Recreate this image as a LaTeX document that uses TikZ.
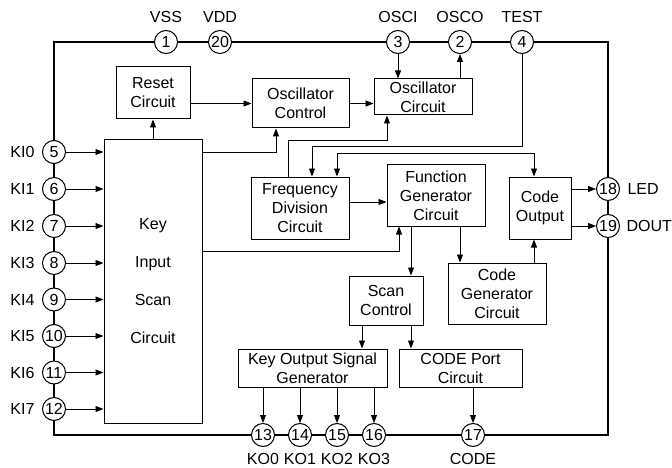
\documentclass[tikz,border=0pt]{standalone}
\usepackage{fontspec}
\setmainfont{Liberation Sans}
\usetikzlibrary{positioning,arrows.meta}

\begin{document}
\begin{tikzpicture}[x=1pt, y=-1pt,
		font=\fontsize{16}{19}\selectfont,
		block/.style={draw, line width=1pt, align=center, inner sep=0pt},
		pin/.style={circle, draw, line width=1pt, fill=white, inner sep=0pt, minimum size=23pt},
		arr/.style={line width=0.9pt, -{Triangle[length=8pt, width=6pt]}},
		frame/.style={line width=2.6pt}]
			\useasboundingbox (0, 0) rectangle (672, 468);

			% chip outline
			\draw [frame] (54, 42) rectangle (608, 435);

			% blocks
			\node [block, minimum width=74pt, minimum height=52pt] (reset) at (153, 93) {Reset\\Circuit};
			\node [block, minimum width=97pt, minimum height=49pt] (oscctl) at (300.5, 103.5) {Oscillator\\Control};
			\node [block, minimum width=98pt, minimum height=36pt] (osccir) at (423, 97) {Oscillator\\Circuit};
			\node [block, minimum width=98pt, minimum height=283pt,
				font=\fontsize{16}{38}\selectfont] (key) at (153, 281.5) {Key\\Input\\Scan\\Circuit};
			\node [block, minimum width=98pt, minimum height=62pt] (fdiv) at (300, 208) {Frequency\\Division\\Circuit};
			\node [block, minimum width=98pt, minimum height=61pt] (fgen) at (436, 195.5) {Function\\Generator\\Circuit};
			\node [block, minimum width=62pt, minimum height=62pt] (cout) at (540, 208) {Code\\Output};
			\node [block, minimum width=98pt, minimum height=61pt] (cgen) at (497, 293.5) {Code\\Generator\\Circuit};
			\node [block, minimum width=74pt, minimum height=49pt] (scan) at (386, 300.5) {Scan\\Control};
			\node [block, minimum width=149pt, minimum height=38pt] (kosg) at (312.5, 368) {Key Output Signal\\Generator};
			\node [block, minimum width=123pt, minimum height=38pt] (cport) at (460.5, 368) {CODE Port\\Circuit};

			% pins on top
			\node [pin] (p1) at (166, 42) {1};
			\node [pin] (p20) at (220, 42) {20};
			\node [pin] (p3) at (398, 42) {3};
			\node [pin] (p2) at (460, 42) {2};
			\node [pin] (p4) at (522, 42) {4};
			\node (vss) [above=4pt of p1] {VSS};
			\node (vdd) [above=4pt of p20] {VDD};
			\node (osci) [above=4pt of p3] {OSCI};
			\node (osco) [above=4pt of p2] {OSCO};
			\node (test) [above=4pt of p4] {TEST};

			% pins on the left
			\node [pin] (p5) at (54, 152) {5};
			\node [pin] (p6) at (54, 189) {6};
			\node [pin] (p7) at (54, 226) {7};
			\node [pin] (p8) at (54, 263) {8};
			\node [pin] (p9) at (54, 299.5) {9};
			\node [pin] (p10) at (54, 336) {10};
			\node [pin] (p11) at (54, 372.5) {11};
			\node [pin] (p12) at (54, 409) {12};
			\node (ki0) [left=4pt of p5] {KI0};
			\node (ki1) [left=4pt of p6] {KI1};
			\node (ki2) [left=4pt of p7] {KI2};
			\node (ki3) [left=4pt of p8] {KI3};
			\node (ki4) [left=4pt of p9] {KI4};
			\node (ki5) [left=4pt of p10] {KI5};
			\node (ki6) [left=4pt of p11] {KI6};
			\node (ki7) [left=4pt of p12] {KI7};

			% pins on the right
			\node [pin] (p18) at (608, 189) {18};
			\node [pin] (p19) at (608, 226) {19};
			\node (led) [right=4pt of p18] {LED};
			\node (dout) [right=3pt of p19] {DOUT};

			% pins at the bottom
			\node [pin] (p13) at (263, 435) {13};
			\node [pin] (p14) at (300, 435) {14};
			\node [pin] (p15) at (337, 435) {15};
			\node [pin] (p16) at (374, 435) {16};
			\node [pin] (p17) at (473, 435) {17};
			\node (ko0) [below=3pt of p13] {KO0};
			\node (ko1) [below=3pt of p14] {KO1};
			\node (ko2) [below=3pt of p15] {KO2};
			\node (ko3) [below=3pt of p16] {KO3};
			\node (code) [below=3pt of p17] {CODE};

			% bend points
			\coordinate (fo) at (387, 140);
			\coordinate (tb) at (312, 146);
			\coordinate (bl) at (337, 153);
			\coordinate (br) at (534, 153);
			\coordinate (kf) at (399, 251);

			% key inputs
			\draw [arr] (p5) -- (p5 -| key.west);
			\draw [arr] (p6) -- (p6 -| key.west);
			\draw [arr] (p7) -- (p7 -| key.west);
			\draw [arr] (p8) -- (p8 -| key.west);
			\draw [arr] (p9) -- (p9 -| key.west);
			\draw [arr] (p10) -- (p10 -| key.west);
			\draw [arr] (p11) -- (p11 -| key.west);
			\draw [arr] (p12) -- (p12 -| key.west);

			% oscillator part
			\draw [arr] (key.north) -- (reset.south);
			\draw [arr] (reset.east |- oscctl.west) -- (oscctl.west);
			\draw [arr] (oscctl.east) -- (oscctl.east -| osccir.west);
			\draw [arr] (key.east |- p5) -| ([xshift=-24.5pt]oscctl.south);
			\draw [arr] (p3) -- (p3 |- osccir.north);
			\draw [arr] (osccir.north -| p2) -- (p2);
			\draw [arr] ([xshift=-12pt]fdiv.north) |- (fo) -- (fo |- osccir.south);
			\draw [arr] (p4) |- (tb) -- (tb |- fdiv.north);
			\draw [{Triangle[length=8pt, width=6pt]}-{Triangle[length=8pt, width=6pt]}, line width=0.9pt]
			(bl |- fdiv.north) -- (bl) -- (br) -- (br |- cout.north);

			% function part
			\draw [arr] ([yshift=6pt]fdiv.east) -- ([yshift=6pt]fdiv.east -| fgen.west);
			\draw [arr] (key.east |- kf) -| (kf |- fgen.south);
			\draw [arr] ([xshift=-25pt]fgen.south) -- ([xshift=-25pt]fgen.south |- scan.north);
			\draw [arr] ([xshift=24pt]fgen.south) -- ([xshift=24pt]fgen.south |- cgen.north);
			\draw [arr] (cgen.north -| br) -- (br |- cout.south);
			\draw [arr] (cout.east |- p18) -- (p18);
			\draw [arr] (cout.east |- p19) -- (p19);

			% outputs
			\draw [arr] ([xshift=-24pt]scan.south) -- ([xshift=-24pt]scan.south |- kosg.north);
			\draw [arr] ([xshift=25pt]scan.south) -- ([xshift=25pt]scan.south |- cport.north);
			\draw [arr] (kosg.south -| p13) -- (p13);
			\draw [arr] (kosg.south -| p14) -- (p14);
			\draw [arr] (kosg.south -| p15) -- (p15);
			\draw [arr] (kosg.south -| p16) -- (p16);
			\draw [arr] (cport.south -| p17) -- (p17);
\end{tikzpicture}
\end{document}
